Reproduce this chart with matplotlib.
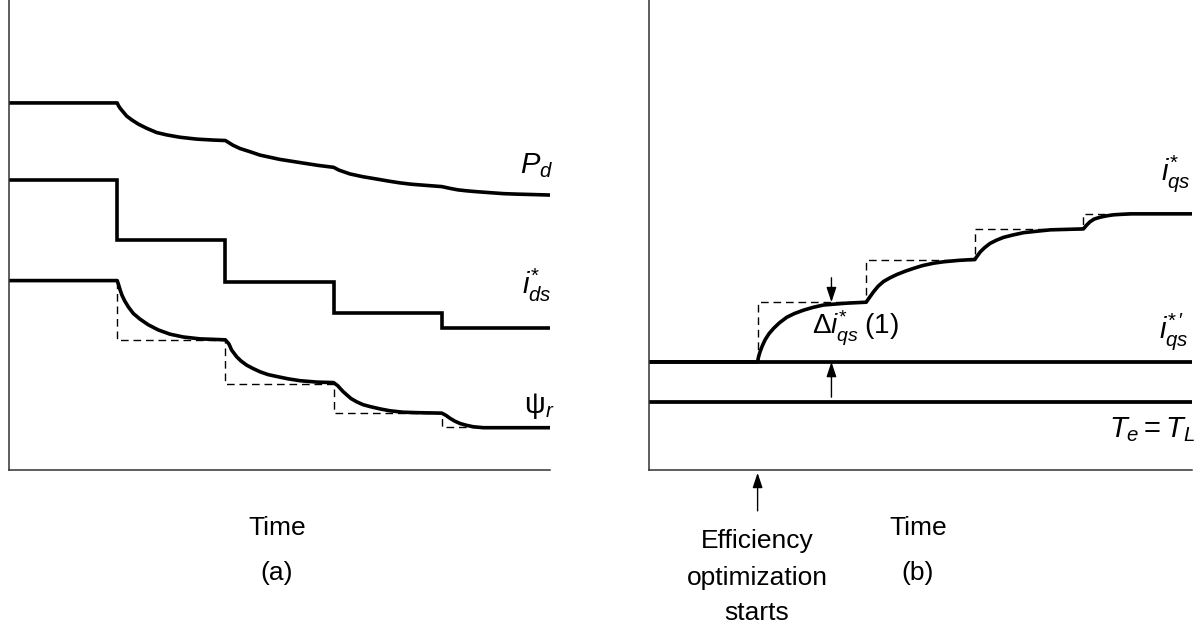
import numpy as np
import matplotlib
matplotlib.use("Agg")
import matplotlib.pyplot as plt

plt.rcParams['font.family'] = ['Liberation Sans', 'DejaVu Sans']
plt.rcParams['mathtext.fontset'] = 'custom'
plt.rcParams['mathtext.rm'] = 'Liberation Sans'
plt.rcParams['mathtext.it'] = 'Liberation Sans:italic'
plt.rcParams['mathtext.bf'] = 'Liberation Sans:bold'

# ---------------- data (time in step intervals, arbitrary units) ----------------
step_times = [1.0, 2.0, 3.0, 4.0]
t_end = 5.0

# (a) loss power Pd
pd_t = [0.0, 1.0, 1.010, 1.026, 1.051, 1.088, 1.134, 1.195, 1.273, 1.365, 1.457, 1.580, 1.735, 1.888, 2.0,
        2.035, 2.07, 2.135, 2.23, 2.32, 2.40, 2.50, 2.61, 2.72, 2.86, 3.0,
        3.05, 3.10, 3.15, 3.27, 3.40, 3.50, 3.61, 3.72, 3.83, 4.0,
        4.04, 4.08, 4.15, 4.23, 4.33, 4.45, 4.57, 4.69, 4.85, 5.0]
pd_v = [7.81, 7.81, 7.76, 7.70, 7.63, 7.53, 7.45, 7.36, 7.27, 7.18, 7.13, 7.08, 7.04, 7.02, 7.01,
        6.96, 6.91, 6.84, 6.77, 6.70, 6.66, 6.61, 6.57, 6.53, 6.48, 6.44,
        6.38, 6.34, 6.30, 6.24, 6.19, 6.15, 6.11, 6.08, 6.06, 6.03,
        6.01, 5.99, 5.96, 5.94, 5.92, 5.90, 5.88, 5.87, 5.86, 5.85]

# (a) ids* command levels (step)
ids_levels = [6.17, 4.89, 3.99, 3.35, 3.03]

# (a) rotor flux psi_r
psi_t = [0.0, 1.0, 1.013, 1.026, 1.044, 1.069, 1.103, 1.149, 1.211, 1.287, 1.380, 1.488, 1.611, 1.765, 2.0,
         2.033, 2.058, 2.104, 2.144, 2.197, 2.255, 2.32, 2.394, 2.474, 2.579, 2.689, 2.847, 3.0,
         3.04, 3.059, 3.087, 3.121, 3.161, 3.214, 3.272, 3.336, 3.429, 3.521, 3.641, 3.768, 4.0,
         4.04, 4.076, 4.12, 4.168, 4.23, 4.291, 4.384, 5.0]
psi_v = [4.03, 4.03, 3.94, 3.84, 3.72, 3.60, 3.47, 3.33, 3.21, 3.09, 2.98, 2.89, 2.83, 2.79, 2.77,
         2.68, 2.55, 2.41, 2.32, 2.23, 2.16, 2.09, 2.03, 1.99, 1.94, 1.90, 1.87, 1.86,
         1.79, 1.74, 1.67, 1.60, 1.52, 1.45, 1.39, 1.35, 1.30, 1.26, 1.23, 1.22, 1.21,
         1.16, 1.10, 1.04, 0.99, 0.95, 0.92, 0.90, 0.90]
psi_cmd_levels = [4.03, 2.77, 1.84, 1.21, 0.91]
psi_cmd_end = 4.4

# (b) torque current iqs*
iqs0 = 2.30
te_level = 1.45
iqs_t = [0.0, 1.0, 1.008, 1.023, 1.045, 1.069, 1.105, 1.146, 1.20, 1.269, 1.34, 1.422, 1.51, 1.606, 1.71, 1.822, 2.0,
         2.03, 2.067, 2.11, 2.159, 2.22, 2.283, 2.36, 2.436, 2.52, 2.62, 2.712, 2.85, 3.0,
         3.025, 3.05, 3.09, 3.14, 3.20, 3.265, 3.35, 3.45, 3.57, 3.696, 3.85, 4.0,
         4.03, 4.06, 4.10, 4.157, 4.22, 4.28, 4.35, 4.433, 5.0]
iqs_v = [2.30, 2.30, 2.40, 2.52, 2.65, 2.77, 2.90, 3.01, 3.13, 3.25, 3.33, 3.40, 3.46, 3.51, 3.53, 3.55, 3.57,
         3.67, 3.79, 3.91, 4.01, 4.09, 4.16, 4.23, 4.29, 4.35, 4.40, 4.43, 4.46, 4.48,
         4.56, 4.64, 4.73, 4.82, 4.89, 4.95, 5.00, 5.05, 5.08, 5.11, 5.12, 5.13,
         5.21, 5.28, 5.34, 5.38, 5.41, 5.43, 5.44, 5.45, 5.45]
iqs_cmd_levels = [2.30, 3.57, 4.47, 5.12, 5.45]
iqs_cmd_end = 4.45

# annotation arrows (b)
delta_t = 1.68
delta_top = (4.09, 3.57)
delta_bot = (1.55, 2.30)
start_arrow = (-0.87, -0.06)

# ---------------- figure ----------------
W, H = 1199, 630
fig = plt.figure(figsize=(W / 100, H / 100), dpi=100)

def px_axes(x0, x1, ytop, ybot):
    return fig.add_axes([x0 / W, (H - ybot) / H, (x1 - x0) / W, (ybot - ytop) / H])

axA = px_axes(9, 550, 0, 470)
axB = px_axes(649, 1192, 0, 470)

for ax in (axA, axB):
    ax.set_xlim(0, t_end)
    ax.set_ylim(0, 10)
    for s in ('top', 'right'):
        ax.spines[s].set_visible(False)
    for s in ('left', 'bottom'):
        ax.spines[s].set_color('#333333')
        ax.spines[s].set_linewidth(1.1)
    ax.set_xticks([])
    ax.set_yticks([])
    ax.patch.set_alpha(0)

LW = 2.6
dash = (0, (5.5, 3.5))

def step_path(times, levels, t0, t1):
    xs, ys = [t0], [levels[0]]
    for tt, lv_prev, lv in zip(times, levels[:-1], levels[1:]):
        xs += [tt, tt]
        ys += [lv_prev, lv]
    xs.append(t1)
    ys.append(levels[-1])
    return np.array(xs), np.array(ys)

curve_kw = dict(color='black', lw=LW, solid_joinstyle='round', solid_capstyle='butt')

# (a)
axA.plot(pd_t, pd_v, **curve_kw)
sx, sy = step_path(step_times, ids_levels, 0, t_end)
axA.plot(sx, sy, color='black', lw=LW, solid_joinstyle='miter', solid_capstyle='butt')
cx, cy = step_path(step_times, psi_cmd_levels, step_times[0], psi_cmd_end)
axA.plot(cx[1:], cy[1:], color='black', lw=1.0, linestyle=dash)
axA.plot(psi_t, psi_v, **curve_kw)

# (b)
axB.plot([0, t_end], [iqs0, iqs0], color='black', lw=LW + 0.1, solid_capstyle='butt')
axB.plot([0, t_end], [te_level, te_level], color='black', lw=LW + 0.1, solid_capstyle='butt')
qx, qy = step_path(step_times, iqs_cmd_levels, step_times[0], iqs_cmd_end)
axB.plot(qx[1:], qy[1:], color='black', lw=1.0, linestyle=dash)
axB.plot(iqs_t, iqs_v, **curve_kw)

arrowprops = dict(arrowstyle='-|>,head_length=0.9,head_width=0.3', color='black', lw=1.0,
                  shrinkA=0, shrinkB=0)
axB.annotate('', xy=(delta_t, delta_top[1]), xytext=(delta_t, delta_top[0]),
             arrowprops=arrowprops)
axB.annotate('', xy=(delta_t, delta_bot[1]), xytext=(delta_t, delta_bot[0]),
             arrowprops=arrowprops)
axB.annotate('', xy=(step_times[0], start_arrow[1]), xytext=(step_times[0], start_arrow[0]),
             arrowprops=arrowprops, annotation_clip=False)

# ---------------- text ----------------
def ftext(x, y, s, size=21, ha='center', va='center', **kw):
    fig.text(x / W, 1 - y / H, s, fontsize=size, ha=ha, va=va, **kw)

ftext(537, 166, r'$P_d$')
ftext(537, 285, r'$i^{*}_{ds}$')
ftext(539, 406, r'$\mathrm{\psi}_r$')
ftext(277, 528, 'Time', size=19)
ftext(277, 573, '(a)', size=19)

ftext(1176, 173, r'$i^{*}_{qs}$')
ftext(1174, 331, r"$i^{*\,\prime}_{qs}$")
ftext(1152, 430, r'$T_e = T_L$')
ftext(855, 328, r'$\Delta i^{*}_{qs}\;\mathrm{(1)}$', size=20)
ftext(918, 528, 'Time', size=19)
ftext(918, 573, '(b)', size=19)
ftext(757, 541, 'Efficiency', size=19)
ftext(757, 578, 'optimization', size=19)
ftext(757, 613, 'starts', size=19)

fig.savefig('out.png', dpi=100)
